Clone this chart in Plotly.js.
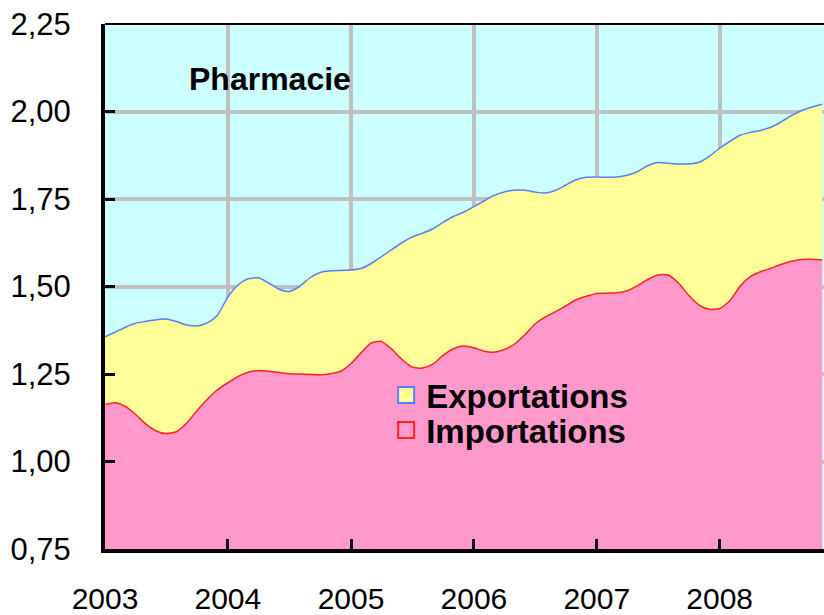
<!DOCTYPE html>
<html>
<head>
<meta charset="utf-8">
<script src="https://cdn.plot.ly/plotly-3.0.1.min.js"></script>
<style>html,body{margin:0;padding:0;background:#fff;}#chart{width:824px;height:615px;}</style>
</head>
<body>
<div id="chart"></div>
<script>
// Monthly values, Jan 2003 .. Nov 2008
const startYear = 2003;
const exportations = [
  1.356,1.370,1.383,1.395,1.400,1.405,1.407,1.400,1.390,1.387,1.396,1.418,
  1.470,1.505,1.522,1.525,1.510,1.492,1.486,1.500,1.525,1.540,1.545,1.546,
  1.547,1.552,1.565,1.585,1.605,1.625,1.641,1.652,1.665,1.683,1.700,1.712,
  1.728,1.745,1.760,1.770,1.775,1.775,1.770,1.767,1.775,1.790,1.805,1.812,
  1.813,1.812,1.813,1.818,1.828,1.845,1.854,1.852,1.850,1.850,1.855,1.872,
  1.895,1.915,1.932,1.940,1.946,1.955,1.970,1.988,2.003,2.013,2.021
];
const importations = [
  1.163,1.168,1.158,1.135,1.108,1.088,1.080,1.085,1.110,1.145,1.178,1.205,
  1.225,1.243,1.255,1.260,1.258,1.254,1.251,1.250,1.249,1.248,1.251,1.258,
  1.280,1.312,1.338,1.343,1.322,1.292,1.270,1.267,1.278,1.303,1.322,1.330,
  1.325,1.315,1.312,1.320,1.335,1.362,1.392,1.413,1.428,1.445,1.462,1.472,
  1.480,1.481,1.482,1.488,1.502,1.520,1.533,1.533,1.510,1.475,1.447,1.435,
  1.437,1.460,1.500,1.528,1.542,1.552,1.563,1.572,1.577,1.578,1.576
];
const seriesNames = ['Exportations', 'Importations'];
const yTicks = [0.75, 1.00, 1.25, 1.50, 1.75, 2.00, 2.25];
const chartTitle = 'Pharmacie';

const months = exportations.map((_, i) => {
  const y = startYear + Math.floor(i / 12);
  const m = (i % 12) + 1;
  return y + '-' + (m < 10 ? '0' + m : m) + '-01';
});

const colExp = '#FFFF99', colExpLine = '#5B7CFF';
const colImp = '#FF99CC', colImpLine = '#FF2222';
const fontFam = '"Liberation Sans", Arial, sans-serif';

const traces = [
  {x: months, y: exportations, type: 'scatter', mode: 'lines', fill: 'tozeroy',
   fillcolor: colExp, line: {color: colExpLine, width: 1.5, shape: 'spline', smoothing: 0.6},
   showlegend: false, hoverinfo: 'skip'},
  {x: months, y: importations, type: 'scatter', mode: 'lines', fill: 'tozeroy',
   fillcolor: colImp, line: {color: colImpLine, width: 1.5, shape: 'spline', smoothing: 0.6},
   showlegend: false, hoverinfo: 'skip'},
  {x: [null], y: [null], type: 'scatter', mode: 'markers', name: seriesNames[0], legend: 'legend',
   marker: {symbol: 'square', size: 20, color: colExp, line: {color: colExpLine, width: 2}}},
  {x: [null], y: [null], type: 'scatter', mode: 'markers', name: seriesNames[1], legend: 'legend2',
   marker: {symbol: 'square', size: 20, color: colImp, line: {color: colImpLine, width: 2}}}
];

const legendFont = {family: fontFam, size: 33, color: '#000', weight: 'bold'};

const layout = {
  width: 824, height: 615,
  margin: {l: 105, r: 0, t: 24, b: 66, pad: 0},
  paper_bgcolor: '#FFFFFF',
  plot_bgcolor: '#CCFFFF',
  separators: ',.',
  font: {family: fontFam, color: '#000000', size: 30},
  showlegend: true,
  legend: {x: 0.391, y: 0.2933, xanchor: 'left', yanchor: 'middle', bgcolor: 'rgba(0,0,0,0)',
           font: legendFont, itemsizing: 'trace'},
  legend2: {x: 0.391, y: 0.2267, xanchor: 'left', yanchor: 'middle', bgcolor: 'rgba(0,0,0,0)',
           font: legendFont, itemsizing: 'trace'},
  xaxis: {
    type: 'date', range: ['2003-01-01', '2008-11-06'],
    dtick: 'M12', tick0: '2003-01-01', tickformat: '%Y',
    showgrid: true, gridcolor: '#C0C0C0', gridwidth: 4,
    showline: true, linecolor: '#000', linewidth: 4,
    ticks: 'inside', ticklen: 10, tickwidth: 3, tickcolor: '#000',
    ticklabelstandoff: 20,
    tickfont: {family: fontFam, size: 30, color: '#000'},
    zeroline: false, fixedrange: true
  },
  yaxis: {
    range: [0.75, 2.25], tickvals: yTicks, tickformat: '.2f',
    showgrid: true, gridcolor: '#C0C0C0', gridwidth: 4,
    showline: true, linecolor: '#000', linewidth: 4,
    ticks: 'inside', ticklen: 10, tickwidth: 3, tickcolor: '#000',
    ticklabelstandoff: 24,
    tickfont: {family: fontFam, size: 31, color: '#000'},
    zeroline: false, fixedrange: true
  },
  shapes: [
    {type: 'line', xref: 'paper', yref: 'paper', x0: 0, x1: 1, y0: 1, y1: 1,
     line: {color: '#000', width: 2}}
  ],
  annotations: [
    {xref: 'paper', yref: 'paper', x: 0.114, y: 0.895, xanchor: 'left', yanchor: 'middle',
     text: '<b>' + chartTitle + '</b>', showarrow: false,
     font: {family: fontFam, size: 32, color: '#000'}}
  ]
};

Plotly.newPlot('chart', traces, layout, {displayModeBar: false, staticPlot: true});
</script>
</body>
</html>
